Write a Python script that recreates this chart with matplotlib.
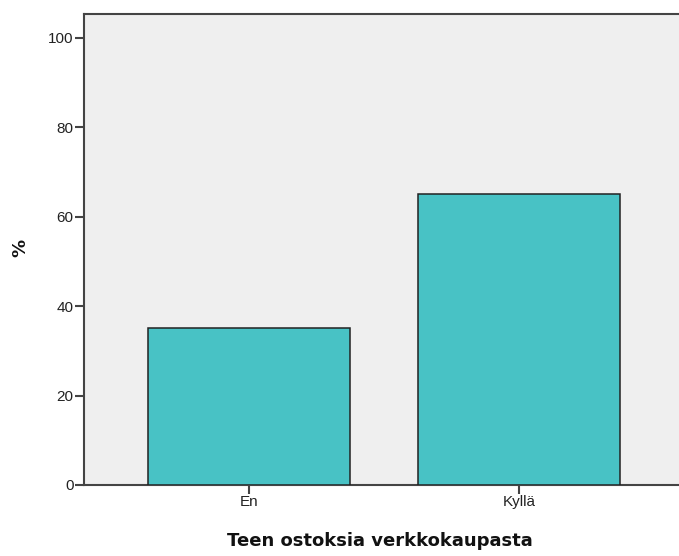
import matplotlib
matplotlib.use("Agg")
import matplotlib.pyplot as plt

categories = ["En", "Kyllä"]
percents = [35.0, 65.0]
yticks = [0, 20, 40, 60, 80, 100]

fig = plt.figure(figsize=(6.79, 5.56), dpi=100)
ax = fig.add_axes([84 / 679, 71 / 556, 1 - 84 / 679, 471 / 556])
ax.set_facecolor("#EFEFEF")

x = list(range(len(categories)))
ax.bar(x, percents, width=0.748, color="#48C2C5", edgecolor="#222222",
       linewidth=1.1, zorder=3)

ax.set_xlim(-0.611, 1.593)
ax.set_ylim(0, 105.3)
ax.set_xticks(x)
ax.set_xticklabels(categories)
ax.set_yticks(yticks)

for side in ("left", "bottom", "top"):
    ax.spines[side].set_color("#444444")
    ax.spines[side].set_linewidth(1.5)
ax.spines["right"].set_visible(False)

ax.tick_params(axis="both", direction="out", length=6.5, width=1.5,
               color="#444444", labelsize=11, labelcolor="#222222", pad=1)
for lab in ax.get_xticklabels() + ax.get_yticklabels():
    lab.set_family("Liberation Sans")

fig.text(380 / 679, 1 - 541 / 556, "Teen ostoksia verkkokaupasta",
         ha="center", va="center", fontsize=13, fontweight="bold",
         family="DejaVu Sans", color="#111111")
fig.text(20 / 679, 1 - 248 / 556, "%", ha="center", va="center",
         rotation=90, fontsize=13, fontweight="bold",
         family="DejaVu Sans", color="#111111")

fig.savefig("out.png", dpi=100)
